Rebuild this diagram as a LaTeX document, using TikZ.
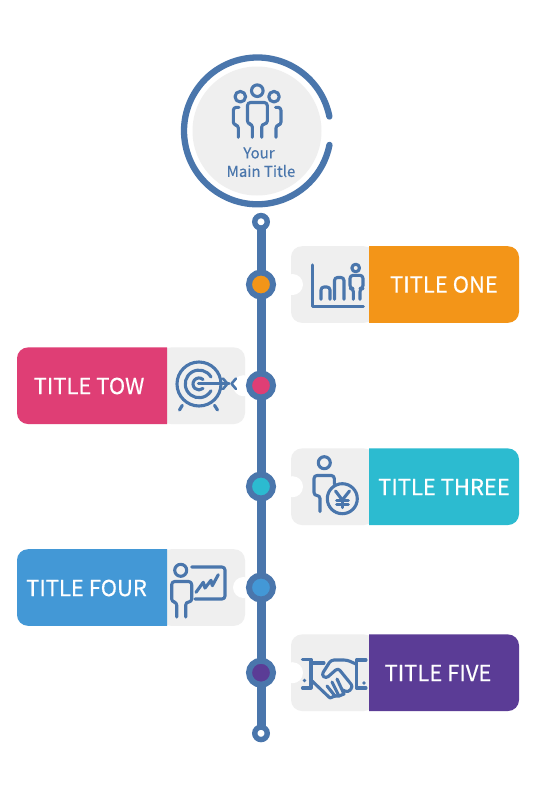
\documentclass[tikz,border=0pt]{standalone}
\usepackage{fontspec}
\setmainfont{Noto Sans CJK SC}[FakeBold=0.35]
\definecolor{steel}{HTML}{4A76AC}
\definecolor{cardgray}{HTML}{EFEFEF}
\definecolor{corange}{HTML}{F39518}
\definecolor{cpink}{HTML}{DF3E75}
\definecolor{ccyan}{HTML}{2CBBD0}
\definecolor{cblue}{HTML}{4398D6}
\definecolor{cpurple}{HTML}{5B3C96}
\tikzset{
  icon/.style={draw=steel,line width=3.1pt,line cap=round,line join=round,rounded corners=3pt},
  iconb/.style={draw=steel,line width=3.1pt,line cap=round,line join=round},
  ttl/.style={text=white,font=\fontsize{22}{24}\selectfont,inner sep=0pt,anchor=center},
  hub/.style={circle,draw=steel,line width=6pt,minimum size=24pt,inner sep=0pt},
  endcap/.style={circle,draw=steel,fill=white,line width=5.4pt,minimum size=12.5pt,inner sep=0pt}
}
\newcommand{\rcard}[2]{%
  \fill[cardgray,rounded corners=11pt] (375,#1-38.3) -- (291,#1-38.3) -- (291,#1+38.3) -- (375,#1+38.3) -- cycle;
  \fill[white] (292.5,#1) circle[radius=10.5];
  \fill[#2,rounded corners=11pt] (369,#1-38.3) [sharp corners] -- (460,#1-38.3) [rounded corners=11pt] -- (519,#1-38.3) -- (519,#1+38.3) -- (460,#1+38.3) [sharp corners] -- (369,#1+38.3) -- cycle;
}
\newcommand{\lcard}[2]{%
  \fill[cardgray,rounded corners=11pt] (160,#1-38.3) -- (245,#1-38.3) -- (245,#1+38.3) -- (160,#1+38.3) -- cycle;
  \fill[white] (243.5,#1) circle[radius=10.5];
  \fill[#2,rounded corners=11pt] (167,#1-38.3) [sharp corners] -- (80,#1-38.3) [rounded corners=11pt] -- (17,#1-38.3) -- (17,#1+38.3) -- (80,#1+38.3) [sharp corners] -- (167,#1+38.3) -- cycle;
}
\begin{document}
\begin{tikzpicture}[x=1pt,y=-1pt]
\useasboundingbox (0,0) rectangle (539,812);
\fill[white] (0,0) rectangle (539,812);
% main ring
\fill[cardgray] (257,131) circle[radius=64.5];
\draw[steel,line width=6.3pt,line cap=round] (329.4,116.5) arc[start angle=-11.3,end angle=-349,radius=73.4];
% people
\draw[iconb] (257.3,90.7) circle[radius=5.8] (240.3,96.7) circle[radius=5.3] (274,96.7) circle[radius=5.3];
\draw[icon] (252.3,137.3) -- (252.3,124) -- (247.5,124) -- (247.5,102.5) -- (267.3,102.5) -- (267.3,124) -- (261.7,124) -- (261.7,137.3);
\draw[icon] (238.3,137.3) -- (238.3,125) -- (233.3,125) -- (233.3,107.3) -- (239,107.3);
\draw[icon] (276,137.3) -- (276,125) -- (281,125) -- (281,107.3) -- (275.5,107.3);
\node[text=steel,font=\fontsize{15}{18}\selectfont,inner sep=0pt] (your) at (259,153) {Your};
\node[text=steel,font=\fontsize{15}{18}\selectfont,inner sep=0pt] (mt) at (261,171) {Main Title};
% cards
\rcard{284.5}{corange}
\lcard{385.7}{cpink}
\rcard{486.7}{ccyan}
\lcard{587.5}{cblue}
\rcard{672.7}{cpurple}
\node[ttl] (t1) at (444,284.5) {TITLE ONE};
\node[ttl] (t2) at (89,386) {TITLE TOW};
\node[ttl] (t3) at (444,487) {TITLE THREE};
\node[ttl] (t4) at (86.5,588) {TITLE FOUR};
\node[ttl] (t5) at (438,673) {TITLE FIVE};
% spine
\coordinate (top) at (261,221.8);
\coordinate (bot) at (261,733.3);
\draw[steel,line width=9pt] (top) -- (bot);
\node[endcap] at (top) {};
\node[endcap] at (bot) {};
\node[hub,fill=corange] at (261,284.5) {};
\node[hub,fill=cpink] at (261,385.5) {};
\node[hub,fill=ccyan] at (261,486.5) {};
\node[hub,fill=cblue] at (261,587.5) {};
\node[hub,fill=cpurple] at (261,672.7) {};
% chart icon
\draw[iconb] (312.3,265) -- (312.3,306.7) -- (363.3,306.7);
\draw[icon] (321,299.3) -- (321,287) -- (330,287) -- (330,299.3);
\draw[icon] (334.5,299.3) -- (334.5,277.5) -- (344,277.5) -- (344,299.3);
\draw[iconb] (355.7,268) circle[radius=3.8];
\draw[icon] (353.3,299.3) -- (353.3,288.5) -- (350,288.5) -- (350,275.3) -- (363,275.3) -- (363,288.5) -- (360,288.5) -- (360,299.3);
% target icon
\draw[iconb] (199,384) circle[radius=22];
\draw[iconb] (211,377) arc[start angle=-30,end angle=-330,radius=13.8];
\draw[iconb] (203,379.5) arc[start angle=-48,end angle=-312,radius=6];
\draw[iconb] (198.3,383.7) -- (229,383.7);
\draw[iconb,line width=2.6pt] (223,378.5) -- (227.5,383.7) -- (223,389);
\draw[iconb,line width=2.6pt] (236,378.5) -- (231.5,383.7) -- (236,389);
\draw[iconb] (182.3,405.3) -- (179.5,410);
\draw[iconb] (214.5,405.3) -- (217.5,410);
% person + yen
\draw[iconb] (324.3,462.7) circle[radius=6];
\draw[icon] (320,511.5) -- (320,495.5) -- (314,495.5) -- (314,475.5) -- (334.3,475.5) -- (334.3,484);
\draw[iconb] (342.3,498.7) circle[radius=15];
\draw[iconb] (335.5,491) -- (342.3,500) -- (349.5,491);
\draw[iconb] (342.3,500) -- (342.3,507.5);
\draw[iconb] (336.7,500.3) -- (348.3,500.3);
\draw[iconb] (336.7,504.5) -- (348.3,504.5);
% presentation
\draw[iconb] (180.7,570.3) circle[radius=6];
\draw[icon] (176.7,617) -- (176.7,602) -- (171.7,602) -- (171.7,581.5) -- (191.7,581.5) -- (191.7,602) -- (185.7,602) -- (185.7,617);
\draw[icon] (191.7,567) -- (225,567) -- (225,599) -- (195,599);
\draw[iconb] (196,592.3) -- (203.3,582.3) -- (205,588) -- (211,580.3) -- (212.3,585.7) -- (218.3,574.7);
% handshake
\draw[iconb] (302.5,659.5) -- (311,659.5) -- (311,688) -- (302.5,688);
\draw[iconb] (311,663) -- (324,663);
\draw[iconb] (366,660) -- (356.3,660) -- (356.3,688) -- (366,688);
\draw[icon] (356,664) -- (347,660) -- (331,660) -- (321.5,675) -- (326,678.5) -- (338,668) -- (353,686.5) -- (348,692.5) -- (343,690);
\draw[iconb] (311,680) -- (324.7,693) -- (330,698) -- (335,696) -- (327,686);
\draw[iconb] (335,696) -- (339,696) -- (332,682);
\draw[iconb] (339,696) -- (344,694) -- (337,679);
\fill[steel] (304.5,680.5) circle[radius=1.8] (364,683) circle[radius=1.8];
\end{tikzpicture}
\end{document}
